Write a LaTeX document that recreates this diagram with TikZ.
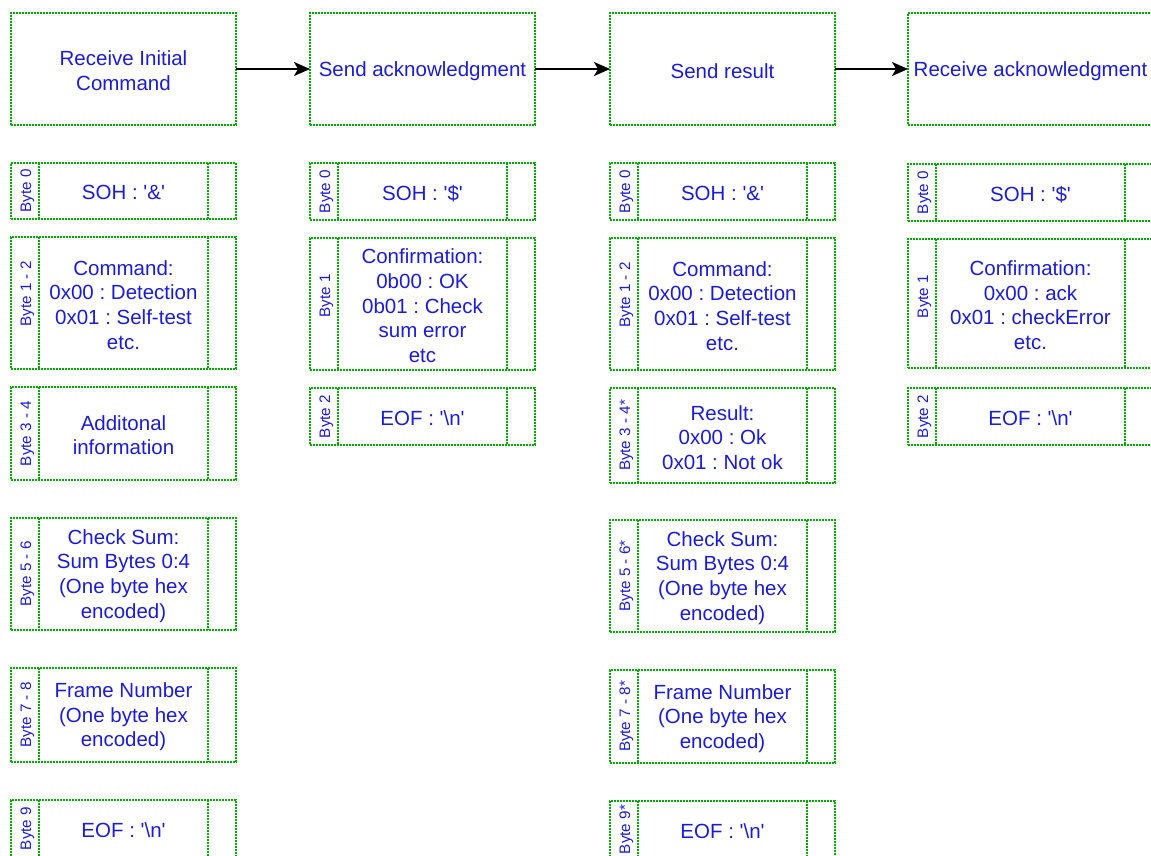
\documentclass[tikz,border=0pt]{standalone}
\usepackage{fontspec}
\newfontfamily\arialfam{Liberation Sans}
\usetikzlibrary{arrows.meta,calc}
\definecolor{cellgreen}{RGB}{0,165,0}
\definecolor{txtblue}{RGB}{28,28,212}
\tikzset{
  dotline/.style={draw=cellgreen, line width=1.6pt, dash pattern=on 1.6pt off 1.4pt},
  frame/.style={dotline, inner sep=0pt, outer sep=0pt, anchor=north west},
  txt/.style={inner sep=0pt, outer sep=0pt, text=txtblue, align=center, font=\arialfam\fontsize{20.5}{24.6}\selectfont},
  lbl/.style={text=txtblue, inner sep=0pt, font=\arialfam\fontsize{15.2}{18}\selectfont, rotate=90},
  arr/.style={line width=1.8pt, -{Stealth[length=16pt,width=14pt,inset=4pt]}}
}
% [#1 label y offset] #2 name, #3 left x, #4 top y, #5 height, #6 middle width, #7 label, #8 text
\newcommand\fieldrow[8][0]{%
  \node[frame, minimum width=#6pt+56pt, minimum height=#5pt] (#2) at (#3,#4) {};
  \draw[dotline] ([xshift=28pt]#2.north west) -- ([xshift=28pt]#2.south west);
  \draw[dotline] ([xshift=-28pt]#2.north east) -- ([xshift=-28pt]#2.south east);
  \node[txt] (#2m) at ($(#2.center)+(0,1.8)$) {#8};
  \node[lbl] (#2t) at ($(#2.west)+(16.5,#1)$) {#7};
}
% #1 name, #2 x, #3 width, #4 text
\newcommand\headbox[4]{%
  \node[frame, minimum width=#3pt, minimum height=112pt] (#1) at (#2,13) {};
  \node[txt] (#1t) at ($(#1.center)+(0,1.8)$) {#4};
}
\begin{document}
\frenchspacing
\begin{tikzpicture}[x=1pt,y=-1pt]
\useasboundingbox (0,0) rectangle (1151,855);
\clip (0,0) rectangle (1151,855);
% headers
\headbox{h1}{11}{225}{Receive Initial\\Command}
\headbox{h2}{310}{225}{Send acknowledgment}
\headbox{h3}{610}{225}{Send result}
\headbox{h4}{908}{245}{Receive acknowledgment}
\draw[arr] (h1.east) -- (h2.west);
\draw[arr] (h2.east) -- (h3.west);
\draw[arr] (h3.east) -- (h4.west);
% column 1
\fieldrow{a0}{11}{163}{56}{169}{Byte 0}{SOH : '\&'}
\fieldrow[-9]{a1}{11}{237}{132}{169}{Byte 1 - 2}{Command:\\0x00 : Detection\\0x01 : Self-test\\etc.}
\fieldrow{a2}{11}{387}{93}{169}{Byte 3 - 4}{Additonal\\information}
\fieldrow{a3}{11}{518}{112}{169}{Byte 5 - 6}{Check Sum:\\Sum Bytes 0:4\\(One byte hex\\encoded)}
\fieldrow{a4}{11}{668}{94}{169}{Byte 7 - 8}{Frame Number\\(One byte hex\\encoded)}
\fieldrow{a5}{11}{800}{57}{169}{Byte 9}{EOF : '\textbackslash n'}
% column 2
\fieldrow{b0}{310}{163}{57}{169}{Byte 0}{SOH : '\$'}
\fieldrow[-8]{b1}{310}{238}{132}{169}{Byte 1}{Confirmation:\\0b00 : OK\\0b01 : Check\\sum error\\etc}
\fieldrow{b2}{310}{388}{57}{169}{Byte 2}{EOF : '\textbackslash n'}
% column 3
\fieldrow{c0}{610}{163}{57}{169}{Byte 0}{SOH : '\&'}
\fieldrow[-9]{c1}{610}{238}{132}{169}{Byte 1 - 2}{Command:\\0x00 : Detection\\0x01 : Self-test\\etc.}
\fieldrow{c2}{610}{388}{95}{169}{Byte 3 - 4*}{Result:\\0x00 : Ok\\0x01 : Not ok}
\fieldrow{c3}{610}{520}{112}{169}{Byte 5 - 6*}{Check Sum:\\Sum Bytes 0:4\\(One byte hex\\encoded)}
\fieldrow{c4}{610}{670}{93}{169}{Byte 7 - 8*}{Frame Number\\(One byte hex\\encoded)}
\fieldrow{c5}{610}{801}{57}{169}{Byte 9*}{EOF : '\textbackslash n'}
% column 4
\fieldrow{d0}{908}{164}{57}{189}{Byte 0}{SOH : '\$'}
\fieldrow[-7]{d1}{908}{239}{129}{189}{Byte 1}{Confirmation:\\0x00 : ack\\0x01 : checkError\\etc.}
\fieldrow{d2}{908}{388}{57}{189}{Byte 2}{EOF : '\textbackslash n'}
\end{tikzpicture}
\end{document}
